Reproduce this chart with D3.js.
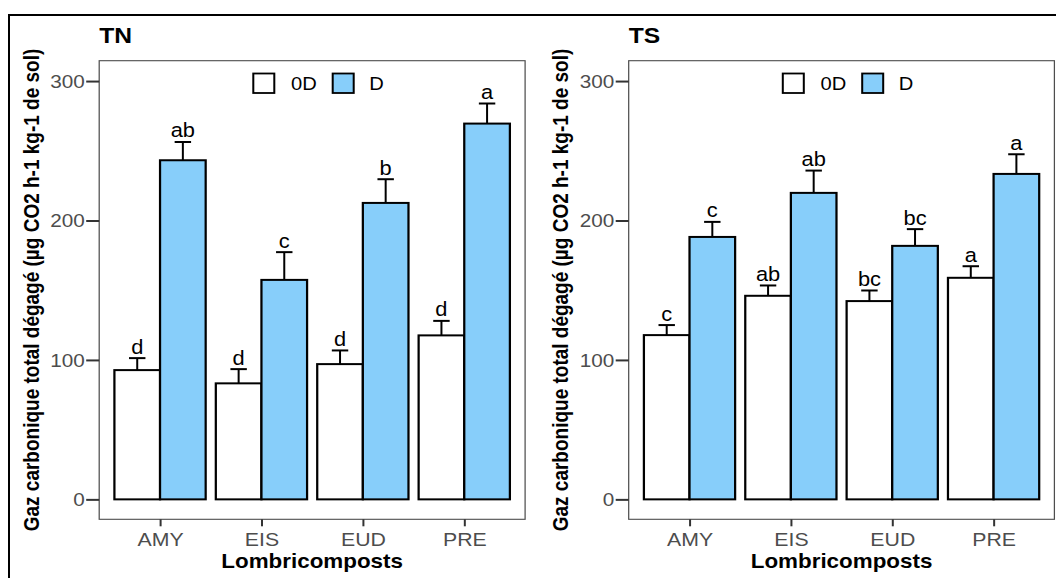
<!DOCTYPE html>
<html>
<head>
<meta charset="utf-8">
<script src="https://cdn.jsdelivr.net/npm/d3@7"></script>
<style>
  html, body { margin: 0; padding: 0; background: #fff; }
  svg { display: block; }
  text { font-family: "Liberation Sans", Arial, sans-serif; }
</style>
</head>
<body>
<div id="chart"></div>
<script>
// Categories and groups
const categories = ["AMY", "EIS", "EUD", "PRE"];
const groups = ["0D", "D"];
const yTicks = [0, 100, 200, 300];

// TN: mean CO2 release and standard error per lombricompost
const tnMean0D = [92.7, 83.2, 97.0, 117.6];
const tnSe0D = [8.6, 10.2, 9.8, 10.4];
const tnMeanD = [243.2, 157.4, 212.6, 269.5];
const tnSeD = [13.1, 19.9, 17.0, 14.4];
const tnLetters0D = ["d", "d", "d", "d"];
const tnLettersD = ["ab", "c", "b", "a"];

// TS
const tsMean0D = [117.8, 146.0, 142.2, 158.9];
const tsSe0D = [7.2, 7.4, 7.6, 8.3];
const tsMeanD = [188.2, 219.8, 181.8, 233.4];
const tsSeD = [10.8, 16.0, 12.0, 14.1];
const tsLetters0D = ["c", "ab", "bc", "a"];
const tsLettersD = ["c", "ab", "bc", "a"];

const W = 1056, H = 578;
const SX = 1.12; // horizontal stretch of the whole figure
const fillColor = { "0D": "#ffffff", "D": "#87CEFA" };

const panelsData = [
  { title: "TN", left: 99.2, right: 525.1,
    mean: [tnMean0D, tnMeanD], se: [tnSe0D, tnSeD], letters: [tnLetters0D, tnLettersD] },
  { title: "TS", left: 628.7, right: 1054.4,
    mean: [tsMean0D, tsMeanD], se: [tsSe0D, tsSeD], letters: [tsLetters0D, tsLettersD] }
];
const panelTop = 60.7, panelBottom = 519.3;

const svg = d3.select("#chart").append("svg")
  .attr("width", W).attr("height", H);

// outer frame
svg.append("rect")
  .attr("x", 9).attr("y", 15).attr("width", W + 20).attr("height", H + 20)
  .attr("fill", "none").attr("stroke", "#000").attr("stroke-width", 2);

const root = svg.append("g").attr("transform", `scale(${SX},1)`);

const y = d3.scaleLinear().domain([-14.3, 314.6]).range([panelBottom, panelTop]);

panelsData.forEach(p => {
  const L = p.left / SX, R = p.right / SX;
  const x = d3.scalePoint().domain(categories).range([L, R]).padding(0.6);
  const bw = x.step() * 0.45;
  const g = root.append("g");

  // panel border
  g.append("rect")
    .attr("x", L).attr("y", panelTop).attr("width", R - L).attr("height", panelBottom - panelTop)
    .attr("fill", "none").attr("stroke", "#4d4d4d").attr("stroke-width", 1.1);

  // y axis
  const yAxis = d3.axisLeft(y).tickValues(yTicks).tickSize(13 / SX).tickPadding(1.5 / SX);
  const ya = g.append("g").attr("transform", `translate(${L},0)`).call(yAxis);
  ya.select(".domain").remove();
  ya.selectAll(".tick line").attr("stroke", "#333").attr("stroke-width", 2);
  ya.selectAll(".tick text").attr("fill", "#4d4d4d").attr("font-size", 18.5)
    .attr("font-family", "Liberation Sans, Arial, sans-serif").attr("dy", "0.35em");

  // x axis
  const xAxis = d3.axisBottom(x).tickSize(7).tickPadding(6);
  const xa = g.append("g").attr("transform", `translate(0,${panelBottom})`).call(xAxis);
  xa.select(".domain").remove();
  xa.selectAll(".tick line").attr("stroke", "#333").attr("stroke-width", 2 / SX);
  xa.selectAll(".tick text").attr("fill", "#4d4d4d").attr("font-size", 19)
    .attr("font-family", "Liberation Sans, Arial, sans-serif").attr("dy", "0.71em");

  // bars
  const rows = [];
  groups.forEach((grp, gi) => {
    categories.forEach((c, ci) => {
      rows.push({ cat: c, grp, gi, mean: p.mean[gi][ci], se: p.se[gi][ci], letter: p.letters[gi][ci] });
    });
  });
  const bx = d => x(d.cat) - bw + d.gi * bw;

  g.selectAll("rect.bar").data(rows).enter().append("rect")
    .attr("class", "bar")
    .attr("x", bx)
    .attr("y", d => y(d.mean))
    .attr("width", bw)
    .attr("height", d => y(0) - y(d.mean))
    .attr("fill", d => fillColor[d.grp])
    .attr("stroke", "#000").attr("stroke-width", 2);

  // error bars (upper half)
  const capW = bw * 0.36;
  const eb = g.selectAll("g.err").data(rows).enter().append("g").attr("class", "err");
  eb.append("line")
    .attr("x1", d => bx(d) + bw / 2).attr("x2", d => bx(d) + bw / 2)
    .attr("y1", d => y(d.mean)).attr("y2", d => y(d.mean + d.se))
    .attr("stroke", "#000").attr("stroke-width", 2 / SX);
  eb.append("line")
    .attr("x1", d => bx(d) + bw / 2 - capW / 2).attr("x2", d => bx(d) + bw / 2 + capW / 2)
    .attr("y1", d => y(d.mean + d.se)).attr("y2", d => y(d.mean + d.se))
    .attr("stroke", "#000").attr("stroke-width", 2);

  // significance letters
  g.selectAll("text.lab").data(rows).enter().append("text")
    .attr("class", "lab")
    .attr("x", d => bx(d) + bw / 2)
    .attr("y", d => y(d.mean + d.se) - 4.5)
    .attr("text-anchor", "middle")
    .attr("font-size", 19.5)
    .attr("fill", "#000")
    .text(d => d.letter);

  // legend
  const lg = g.append("g");
  const lx0 = (p.left + 154.1) / SX;
  const items = [
    { key: "0D", sx: lx0, tx: lx0 + 37.7 / SX },
    { key: "D", sx: lx0 + 79.4 / SX, tx: lx0 + 116 / SX }
  ];
  items.forEach(it => {
    lg.append("rect")
      .attr("x", it.sx).attr("y", 73.5)
      .attr("width", 21 / SX).attr("height", 19.5)
      .attr("fill", fillColor[it.key]).attr("stroke", "#000").attr("stroke-width", 1.8);
    lg.append("text")
      .attr("x", it.tx).attr("y", 90)
      .attr("font-size", 18).attr("fill", "#000")
      .text(it.key);
  });

  // panel title
  g.append("text")
    .attr("x", L).attr("y", 42.7)
    .attr("font-size", 22).attr("font-weight", "bold").attr("fill", "#000")
    .text(p.title);

  // axis titles
  g.append("text")
    .attr("x", (L + R) / 2).attr("y", 568.5)
    .attr("text-anchor", "middle")
    .attr("font-size", 20).attr("font-weight", "bold").attr("fill", "#000")
    .text("Lombricomposts");

  g.append("text")
    .attr("transform", `translate(${(p.left - 60.7) / SX},${(panelTop + panelBottom) / 2}) rotate(-90)`)
    .attr("text-anchor", "middle")
    .attr("font-size", 19).attr("font-weight", "bold").attr("fill", "#000")
    .text("Gaz carbonique total dégagé (µg CO2 h-1 kg-1 de sol)");
});
</script>
</body>
</html>
